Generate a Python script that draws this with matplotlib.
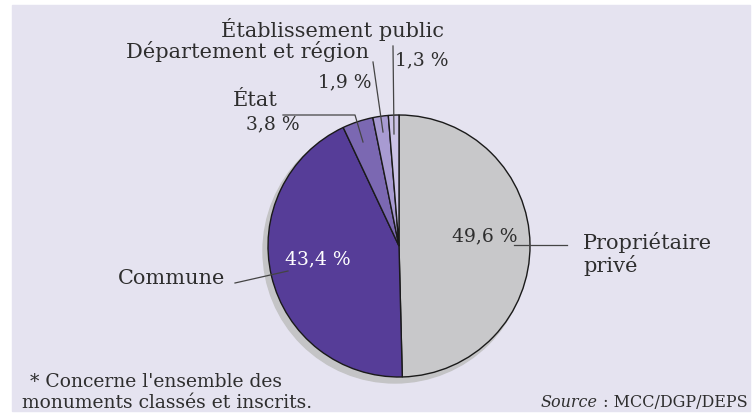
import matplotlib
matplotlib.use("Agg")
import matplotlib.pyplot as plt
from matplotlib.patches import Circle, Rectangle

# données (répartition des propriétaires de monuments historiques)
categories = ["Propriétaire\nprivé", "Commune", "État", "Département et région", "Établissement public"]
values = [49.6, 43.4, 3.8, 1.9, 1.3]
pct_labels = ["49,6 %", "43,4 %", "3,8 %", "1,9 %", "1,3 %"]
colors = ["#C8C8CA", "#563D98", "#7B68B2", "#A89BD2", "#CBC3E6"]

W, H = 752, 414
bg = "#E5E3F0"
txt = "#2E2E2E"
plt.rcParams['font.family'] = ['DejaVu Serif']

fig = plt.figure(figsize=(W / 100, H / 100), dpi=100)
ax = fig.add_axes([0, 0, 1, 1])

def Y(y):  # coordonnées pixel (haut -> bas) vers repère de l'axe
    return H - y

# fond
ax.add_patch(Rectangle((12, Y(412)), W - 14, 406, color=bg, zorder=0))

cx, cy, r = 399, 247, 131
# ombre
ax.add_patch(Circle((cx - 4, Y(cy + 5)), r + 1, color="#C4C4C6", zorder=1))
ax.pie(values, colors=colors, startangle=90, counterclock=False,
       center=(cx, Y(cy)), radius=r, frame=True,
       wedgeprops=dict(edgecolor="#1A1A1A", linewidth=1.0, zorder=2))
ax.set_xlim(0, W)
ax.set_ylim(0, H)
ax.set_aspect("equal")
ax.axis("off")

fs = 15
fp = 13.5
def T(x, y, s, ha="left", color=txt, size=fs, **kw):
    ax.text(x, Y(y), s, ha=ha, va="center", color=color, fontsize=size, zorder=5, **kw)

def L(xs, ys, color="#444444", lw=0.9):
    ax.plot(xs, [Y(v) for v in ys], color=color, lw=lw, zorder=4)

# étiquettes du haut
T(444, 29, categories[4], ha="right")
T(369, 52, categories[3], ha="right")
T(395, 60, pct_labels[4], size=fp)
T(372, 82, pct_labels[3], ha="right", size=fp)
T(278, 101, categories[2], ha="right")
T(300, 124, pct_labels[2], ha="right", size=fp)
L([393, 394], [47, 135])
L([373, 383], [63, 133])
L([283, 355, 363], [116, 116, 143])

# propriétaire privé
T(452, 236, pct_labels[0], size=fp)
L([514, 567], [246, 246])
T(583, 243, "Propriétaire")
T(583, 266, "privé")

# commune
T(285, 259, pct_labels[1], color="white", size=fp)
T(225, 279, categories[1], ha="right")
L([235, 288], [284, 272])

# notes
T(30, 382, "* Concerne l'ensemble des", size=13.5)
T(22, 403, "monuments classés et inscrits.", size=13.5)
ax.text(748, Y(403), " : MCC/DGP/DEPS", ha="right", va="center", color=txt, fontsize=11.5, zorder=5)
ax.text(598, Y(403), "Source", ha="right", va="center", color=txt, fontsize=11.5,
        style="italic", zorder=5)

fig.savefig("out.png", dpi=100, facecolor="white")
